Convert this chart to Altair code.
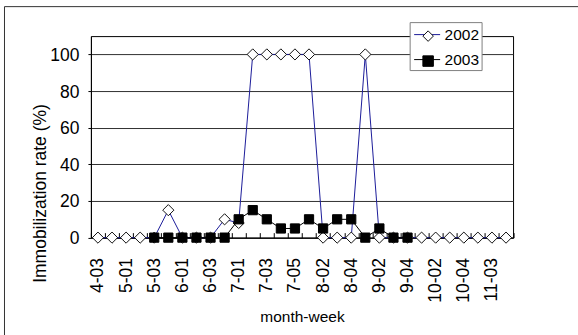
import altair as alt
import pandas as pd

# ---- data ----
weeks = ["4-03", "4-04", "5-01", "5-02", "5-03", "5-04", "6-01", "6-02", "6-03", "6-04",
         "7-01", "7-02", "7-03", "7-04", "7-05", "8-01", "8-02", "8-03", "8-04", "9-01",
         "9-02", "9-03", "9-04", "10-01", "10-02", "10-03", "10-04", "11-02", "11-03", "11-04"]
rate_2002 = [0, 0, 0, 0, 0, 15, 0, 0, 0, 10, 8, 100, 100, 100, 100, 100, 0, 0, 0, 100,
             0, 0, 0, 0, 0, 0, 0, 0, 0, 0]
weeks_2003 = ["5-03", "5-04", "6-01", "6-02", "6-03", "6-04", "7-01", "7-02", "7-03", "7-04",
              "7-05", "8-01", "8-02", "8-03", "8-04", "9-01", "9-02", "9-03", "9-04"]
rate_2003 = [0, 0, 0, 0, 0, 0, 10, 15, 10, 5, 5, 10, 5, 10, 10, 0, 5, 0, 0]
y_ticks = [0, 20, 40, 60, 80, 100]
series_names = ["2002", "2003"]

rows = [{"series": "2002", "week": w, "idx": weeks.index(w), "rate": r} for w, r in zip(weeks, rate_2002)]
rows += [{"series": "2003", "week": w, "idx": weeks.index(w), "rate": r} for w, r in zip(weeks_2003, rate_2003)]
df = pd.DataFrame(rows)
df["marker"] = df["series"]

FONT = "Liberation Sans Narrow, Arial Narrow, Liberation Sans, Arial, sans-serif"
labels_js = "[" + ",".join("'%s'" % w for w in weeks) + "]"

x_scale = alt.Scale(domain=[-0.5, len(weeks) - 0.5], nice=False, zero=False)
y_scale = alt.Scale(domain=[0, 110], nice=False)

y_axis = alt.Axis(values=y_ticks, grid=True, gridColor="#303030", gridWidth=1,
                  domainColor="black", tickColor="black", tickSize=3,
                  labelFont=FONT, labelFontSize=17.5, labelColor="black", labelPadding=9,
                  labelOffset=1,
                  title="Immobilization rate (%)", titleFont=FONT, titleFontSize=17.5,
                  titleFontWeight="normal", titleColor="black", titleX=-45, titleY=157,
                  titleAlign="center", titleBaseline="alphabetic")

label_axis = alt.Axis(orient="bottom", values=list(range(0, len(weeks), 2)),
                      labelExpr=labels_js + "[datum.value]", labelAngle=-90,
                      labelFont=FONT, labelFontSize=17.5, labelColor="black",
                      labelPadding=20, labelFlush=False, labelOverlap=False,
                      ticks=False, grid=False, domainColor="black",
                      title="month-week", titleFont=FONT, titleFontSize=15.5,
                      titleFontWeight="normal", titleColor="black", titleY=84,
                      titleBaseline="alphabetic")

tick_axis = alt.Axis(orient="bottom", values=[i + 0.5 for i in range(-1, len(weeks))],
                     labels=False, domain=False, ticks=True, tickSize=5, tickColor="black",
                     offset=-5, grid=False, title=None)

# legend with line symbols + labels (boxed)
line_legend = alt.Legend(orient="none", legendX=319, legendY=-14, title=None, direction="vertical",
                         fillColor="white", strokeColor="#808080", padding=2, symbolSize=400,
                         symbolType="M-0.8,0H1.8", rowPadding=6, labelOffset=12,
                         labelFont=FONT, labelFontSize=15.5, labelColor="black",
                         symbolStrokeWidth=1, zindex=1)
# legend carrying only the markers, laid over the line legend
marker_legend = alt.Legend(orient="none", legendX=331.5, legendY=-6, title=None, direction="vertical",
                           padding=0, symbolSize=110, rowPadding=9, labelFontSize=2,
                           labelOpacity=0, symbolStrokeWidth=1, zindex=2)

color = alt.Color("series:N", scale=alt.Scale(domain=series_names, range=["#1c1c9a", "black"]),
                  legend=line_legend)
shape = alt.Shape("marker:N", scale=alt.Scale(range=["diamond", "square"]), legend=marker_legend)
fill = alt.Fill("marker:N", scale=alt.Scale(range=["white", "black"]), legend=marker_legend)
stroke = alt.Stroke("marker:N", scale=alt.Scale(range=["#111111", "black"]), legend=marker_legend)

base = alt.Chart(df)
y_enc = alt.Y("rate:Q", scale=y_scale, axis=y_axis)

line02 = base.transform_filter("datum.series === '2002'").mark_line(strokeWidth=1).encode(
    x=alt.X("idx:Q", scale=x_scale, axis=label_axis), y=y_enc, color=color)
pts02 = base.transform_filter("datum.series === '2002'").mark_point(
    filled=True, strokeWidth=1, opacity=1
).encode(x=alt.X("idx:Q", scale=x_scale, axis=tick_axis), y=y_enc, shape=shape, fill=fill,
         stroke=stroke, size=alt.value(125))
line03 = base.transform_filter("datum.series === '2003'").mark_line(strokeWidth=1).encode(
    x=alt.X("idx:Q", scale=x_scale, axis=None), y=y_enc, color=color)
pts03 = base.transform_filter("datum.series === '2003'").mark_point(
    filled=True, strokeWidth=1, opacity=1
).encode(x=alt.X("idx:Q", scale=x_scale, axis=None), y=y_enc, shape=shape, fill=fill,
         stroke=stroke, size=alt.value(85))

frame = alt.Chart(alt.Data(values=[{"a": 1}])).mark_rect(
    filled=False, stroke="#333333", strokeWidth=1
).encode(x=alt.value(-86.5), x2=alt.value(520), y=alt.value(-29.5), y2=alt.value(330))

chart = alt.layer(frame, line02, pts02, line03, pts03).resolve_axis(x="independent").properties(
    width=422.5, height=201.7,
    padding={"left": 91, "top": 36, "right": 65, "bottom": 98},
    autosize=alt.AutoSizeParams(type="none"),
    background="white",
).configure_view(stroke="black", strokeWidth=1)

chart.save("out.html", embed_options={"renderer": "svg", "actions": False})
